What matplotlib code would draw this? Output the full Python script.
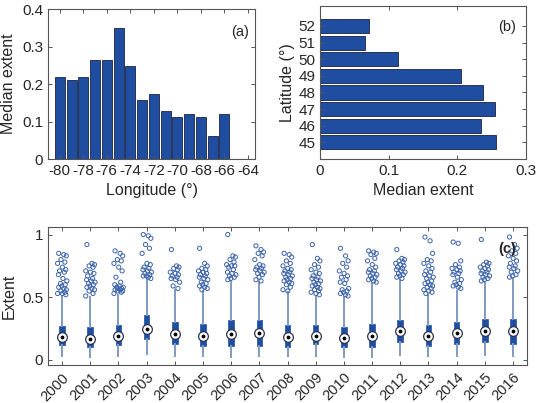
import matplotlib
matplotlib.use("Agg")
import matplotlib.pyplot as plt

plt.rcParams['font.family'] = ['Liberation Sans', 'DejaVu Sans']
plt.rcParams['font.size'] = 10
plt.rcParams['axes.unicode_minus'] = False

# (a) median extent by longitude
lon = [-80, -79, -78, -77, -76, -75, -74, -73, -72, -71, -70, -69, -68, -67, -66]
lon_med = [0.220, 0.211, 0.220, 0.263, 0.265, 0.350, 0.249, 0.157, 0.173,
           0.129, 0.112, 0.120, 0.112, 0.062, 0.120]

# (b) median extent by latitude
lat = [45, 46, 47, 48, 49, 50, 51, 52]
lat_med = [0.257, 0.234, 0.255, 0.238, 0.206, 0.114, 0.066, 0.071]

# (c) yearly box statistics
years = list(range(2000, 2017))
q1 = [0.12, 0.10, 0.12, 0.165, 0.125, 0.11, 0.11, 0.115, 0.105, 0.125, 0.105,
      0.10, 0.14, 0.11, 0.13, 0.145, 0.13]
med = [0.183, 0.17, 0.19, 0.25, 0.205, 0.195, 0.21, 0.217, 0.185, 0.195, 0.175,
       0.19, 0.23, 0.195, 0.215, 0.23, 0.228]
q3 = [0.27, 0.26, 0.28, 0.355, 0.30, 0.29, 0.32, 0.32, 0.28, 0.28, 0.265,
      0.29, 0.32, 0.28, 0.305, 0.33, 0.33]
wlo = [0.03, 0.02, 0.03, 0.05, 0.03, 0.03, 0.02, 0.03, 0.03, 0.03, 0.02,
       0.02, 0.04, 0.03, 0.03, 0.04, 0.03]
whi = [0.51, 0.50, 0.52, 0.64, 0.56, 0.55, 0.63, 0.62, 0.54, 0.51, 0.50,
       0.61, 0.64, 0.52, 0.55, 0.62, 0.65]
outliers = [
    [0.85, 0.84, 0.83, 0.80, 0.78, 0.77, 0.74, 0.72, 0.71, 0.70, 0.68, 0.65, 0.63,
     0.61, 0.60, 0.59, 0.58, 0.57, 0.56, 0.55, 0.54, 0.53, 0.53, 0.52],
    [0.92, 0.77, 0.76, 0.75, 0.74, 0.71, 0.70, 0.69, 0.67, 0.65, 0.64, 0.63, 0.62,
     0.61, 0.60, 0.59, 0.58, 0.57, 0.56, 0.55, 0.53, 0.51],
    [0.87, 0.85, 0.83, 0.80, 0.79, 0.77, 0.74, 0.71, 0.66, 0.62, 0.60, 0.59, 0.58,
     0.58, 0.57, 0.57, 0.56, 0.56, 0.55, 0.55, 0.54, 0.53],
    [1.00, 0.99, 0.97, 0.92, 0.89, 0.85, 0.77, 0.76, 0.74, 0.73, 0.72, 0.71, 0.70,
     0.69, 0.68, 0.67, 0.67, 0.66, 0.65],
    [0.88, 0.75, 0.74, 0.73, 0.72, 0.70, 0.69, 0.68, 0.67, 0.66, 0.65, 0.64, 0.62,
     0.59, 0.57],
    [0.89, 0.77, 0.75, 0.73, 0.72, 0.71, 0.70, 0.69, 0.68, 0.67, 0.66, 0.65, 0.64,
     0.62, 0.61, 0.60, 0.59, 0.58, 0.57, 0.56],
    [1.00, 0.83, 0.82, 0.80, 0.78, 0.76, 0.75, 0.75, 0.74, 0.72, 0.70, 0.69, 0.68,
     0.67, 0.66, 0.65, 0.64],
    [0.91, 0.88, 0.86, 0.85, 0.83, 0.80, 0.76, 0.75, 0.74, 0.73, 0.72, 0.71, 0.70,
     0.69, 0.68, 0.66, 0.64, 0.63],
    [0.85, 0.84, 0.82, 0.79, 0.77, 0.75, 0.73, 0.72, 0.71, 0.70, 0.69, 0.68, 0.67,
     0.66, 0.65, 0.64, 0.63, 0.62, 0.61, 0.60, 0.58, 0.56, 0.55],
    [0.92, 0.81, 0.79, 0.76, 0.74, 0.72, 0.70, 0.69, 0.67, 0.66, 0.65, 0.64, 0.63,
     0.62, 0.61, 0.60, 0.59, 0.58, 0.57, 0.56, 0.55, 0.54, 0.53, 0.52],
    [0.89, 0.83, 0.79, 0.77, 0.74, 0.71, 0.69, 0.67, 0.66, 0.64, 0.62, 0.61, 0.57,
     0.56, 0.55, 0.54, 0.53, 0.52, 0.51],
    [0.87, 0.86, 0.85, 0.84, 0.81, 0.79, 0.76, 0.74, 0.72, 0.71, 0.70, 0.69, 0.68,
     0.67, 0.66, 0.65, 0.64, 0.63, 0.62],
    [0.88, 0.81, 0.80, 0.79, 0.78, 0.77, 0.76, 0.75, 0.74, 0.73, 0.72, 0.71, 0.70,
     0.69, 0.68, 0.67, 0.66, 0.65],
    [0.98, 0.95, 0.85, 0.80, 0.79, 0.77, 0.75, 0.73, 0.71, 0.70, 0.68, 0.67, 0.66,
     0.65, 0.63, 0.62, 0.61, 0.60, 0.59, 0.58, 0.57, 0.56, 0.55, 0.54, 0.53],
    [0.94, 0.93, 0.79, 0.76, 0.74, 0.73, 0.72, 0.71, 0.70, 0.69, 0.68, 0.66, 0.64,
     0.62, 0.61, 0.60, 0.59, 0.58, 0.57],
    [0.96, 0.78, 0.77, 0.76, 0.75, 0.74, 0.73, 0.72, 0.71, 0.70, 0.69, 0.68, 0.67,
     0.66, 0.65, 0.64, 0.63],
    [0.98, 0.92, 0.89, 0.87, 0.85, 0.83, 0.81, 0.79, 0.77, 0.75, 0.74, 0.73, 0.71,
     0.70, 0.68, 0.67, 0.66],
]
# fixed horizontal spread pattern for the outlier circles
jitter = [-0.12, 0.06, 0.15, -0.04, 0.10, -0.16, 0.01, 0.13, -0.09, 0.08,
          -0.13, 0.03, 0.17, -0.06, 0.11, -0.01]

BAR = '#1f4ea0'
EDGE = '#1b2240'
AX = '#555555'
TXT = '#262626'


def style(ax):
    for s in ax.spines.values():
        s.set_color(AX)
        s.set_linewidth(0.8)
    ax.tick_params(direction='in', top=True, right=True, color=AX,
                   labelcolor=TXT, labelsize=11, length=3, width=0.7)


fig = plt.figure(figsize=(5.37, 4.03), dpi=100)

# panel (a)
ax_a = fig.add_axes([48 / 537, 1 - 159 / 403, 207 / 537, 150 / 403])
ax_a.bar(lon, lon_med, width=0.85, color=BAR, edgecolor=EDGE, linewidth=0.6)
ax_a.set_xlim(-81, -63.4)
ax_a.set_ylim(0, 0.4)
ax_a.set_xticks(range(-80, -63, 2))
ax_a.set_yticks([0, 0.1, 0.2, 0.3, 0.4])
ax_a.set_yticklabels(['0', '0.1', '0.2', '0.3', '0.4'])
ax_a.set_xlabel('Longitude (°)', fontsize=11.5, color=TXT, labelpad=4)
ax_a.set_ylabel('Median extent', fontsize=11.5, color=TXT, labelpad=4)
ax_a.text(0.93, 0.85, '(a)', transform=ax_a.transAxes, ha='center',
          va='center', fontsize=10.5, color=TXT)
style(ax_a)

# panel (b)
ax_b = fig.add_axes([320 / 537, 1 - 159 / 403, 206 / 537, 153 / 403])
ax_b.barh(lat, lat_med, height=0.85, color=BAR, edgecolor=EDGE, linewidth=0.6)
ax_b.set_xlim(0, 0.3)
ax_b.set_ylim(44, 53.2)
ax_b.set_xticks([0, 0.1, 0.2, 0.3])
ax_b.set_xticklabels(['0', '0.1', '0.2', '0.3'])
ax_b.set_yticks(lat)
ax_b.set_xlabel('Median extent', fontsize=11.5, color=TXT, labelpad=4)
ax_b.set_ylabel('Latitude (°)', fontsize=11.5, color=TXT, labelpad=2)
ax_b.text(0.91, 0.86, '(b)', transform=ax_b.transAxes, ha='center',
          va='center', fontsize=10.5, color=TXT)
style(ax_b)

# panel (c)
ax_c = fig.add_axes([48 / 537, 1 - 365 / 403, 479 / 537, 138 / 403])
pos = list(range(1, len(years) + 1))
stats = []
for i in range(len(years)):
    stats.append({'med': med[i], 'q1': q1[i], 'q3': q3[i],
                  'whislo': wlo[i], 'whishi': whi[i], 'fliers': []})
ax_c.bxp(stats, positions=pos, widths=0.2, patch_artist=True,
         showfliers=False, showcaps=False,
         boxprops={'facecolor': BAR, 'edgecolor': BAR, 'linewidth': 0.5},
         whiskerprops={'color': '#7f9ac4', 'linewidth': 1.4},
         medianprops={'linewidth': 0})
for i, p in enumerate(pos):
    vals = outliers[i]
    xs = [p + jitter[k % len(jitter)] for k in range(len(vals))]
    ax_c.scatter(xs, vals, s=9, facecolors='none', edgecolors='#3d64aa',
                 linewidths=0.7, zorder=3)
ax_c.plot(pos, med, 'o', ms=7, mfc='white', mec='#2a3350', mew=0.9, zorder=4)
ax_c.plot(pos, med, '.', ms=3.5, color='black', zorder=5)
ax_c.set_xlim(0.5, len(years) + 0.5)
ax_c.set_ylim(-0.04, 1.06)
ax_c.set_xticks(pos)
ax_c.set_xticklabels([str(y) for y in years], rotation=45, ha='right',
                     va='top', rotation_mode='anchor')
ax_c.set_yticks([0, 0.5, 1])
ax_c.set_yticklabels(['0', '0.5', '1'])
ax_c.set_ylabel('Extent', fontsize=11.5, color=TXT, labelpad=4)
ax_c.text(0.958, 0.84, '(c)', transform=ax_c.transAxes, ha='center',
          va='center', fontsize=10.5, color=TXT, fontweight='bold')
style(ax_c)
ax_c.tick_params(axis='x', pad=4, labelsize=10.5)

fig.savefig('out.png', dpi=100)
